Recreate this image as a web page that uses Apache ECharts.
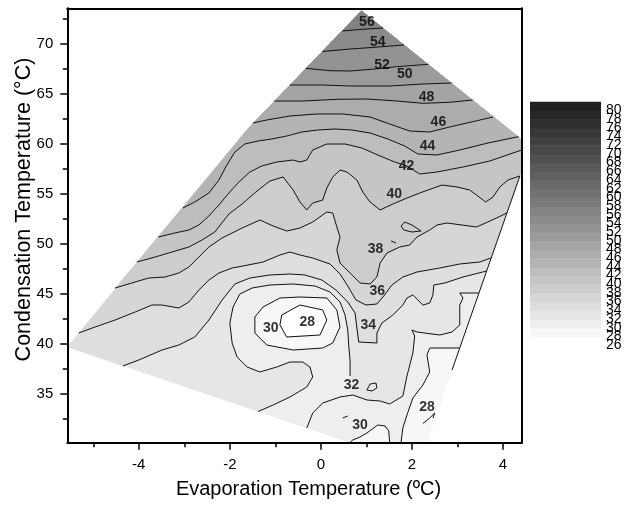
<!DOCTYPE html>
<html>
<head>
<meta charset="utf-8">
<title>Condensation vs evaporation temperature contour map</title>
<script src="https://cdn.jsdelivr.net/npm/echarts@6.0.0/dist/echarts.min.js"></script>
<style>
  html, body { margin: 0; padding: 0; background: #ffffff; }
  #chart { width: 624px; height: 512px; }
</style>
</head>
<body>
<div id="chart"></div>
<script>
// ---- axis extents and ticks ----
const xExtent = [-5.57, 4.41];
const yExtent = [30.13, 73.57];
const xMajorTicks = [-4, -2, 0, 2, 4];
const xMinorTicks = [-5, -3, -1, 1, 3];
const yMajorTicks = [35, 40, 45, 50, 55, 60, 65, 70];
const yMinorTicks = [32.5, 37.5, 42.5, 47.5, 52.5, 57.5, 62.5, 67.5, 72.5];
const scaleLevels = [26, 28, 30, 32, 34, 36, 38, 40, 42, 44, 46, 48, 50, 52, 54, 56, 58, 60, 62, 64, 66, 68, 70, 72, 74, 76, 78, 80];
const scaleExtent = [24, 82];

// ---- outline of the measured region [evaporation, condensation] ----
const outline = [
  [-5.57, 39.70], [-1.62, 61.45], [0.89, 73.33], [4.34, 60.73],
  [4.41, 60.40], [4.41, 57.30], [2.88, 37.40], [2.33, 30.13], [0.64, 30.13]
];

// ---- iso-lines ----
const iso56 = [[0.47,71.30],[0.86,71.45],[1.36,71.60]];
const iso54 = [[0.03,69.25],[0.64,69.50],[1.12,69.65],[1.82,69.90]];
const iso52 = [[-0.33,67.57],[0.20,67.33],[0.64,67.30],[1.11,67.47],[1.66,67.73],[2.36,67.97]];
const iso50 = [[-0.68,65.90],[0.04,65.90],[0.64,65.80],[1.51,65.80],[2.24,66.00],[2.87,66.10]];
const iso48 = [[-1.02,64.30],[-0.40,64.30],[0.35,64.47],[1.01,64.50],[1.67,64.30],[2.24,64.07],[2.83,64.17],[3.33,64.40]];
const iso46 = [[-1.49,62.10],[-1.19,62.40],[-0.68,62.80],[-0.09,63.00],[0.48,63.00],[1.08,62.70],[1.51,62.00],[1.95,61.30],[2.39,61.20],[2.83,61.70],[3.78,62.70]];
const iso44 = [[-3.03,53.60],[-2.77,54.20],[-2.46,55.10],[-2.24,56.40],[-2.09,57.70],[-1.89,59.20],[-1.67,60.00],[-1.38,60.30],[-1.08,60.50],[-0.75,60.80],[-0.42,61.20],[-0.07,61.40],[0.31,61.50],[0.68,61.40],[1.08,61.10],[1.47,60.50],[1.84,59.80],[2.13,59.00],[2.55,58.90],[3.05,59.40],[3.67,60.10],[4.34,60.73]];
const iso42 = [[-3.57,50.70],[-3.21,51.10],[-2.90,51.40],[-2.68,51.90],[-2.46,52.80],[-2.24,53.90],[-2.02,55.10],[-1.80,56.20],[-1.56,57.20],[-1.30,57.80],[-0.97,58.20],[-0.61,58.40],[-0.46,58.20],[-0.31,58.40],[-0.18,59.40],[0.13,60.00],[0.53,60.00],[0.90,59.60],[1.25,58.90],[1.62,58.20],[1.89,57.80],[2.17,57.00],[2.55,57.20],[3.12,57.70],[3.71,58.30],[4.41,59.40]];
const iso40 = [[-4.04,48.20],[-3.64,48.70],[-3.27,49.20],[-2.90,49.70],[-2.61,50.40],[-2.33,51.20],[-2.02,53.00],[-1.73,54.00],[-1.43,55.20],[-1.12,56.30],[-0.83,56.70],[-0.61,55.40],[-0.46,54.20],[-0.31,53.40],[-0.18,54.10],[0.04,54.40],[0.13,55.60],[0.26,56.70],[0.42,57.40],[0.57,57.20],[0.79,56.40],[0.92,55.20],[1.08,54.20],[1.30,53.40],[1.58,54.00],[1.84,54.50],[2.17,55.10],[2.66,55.90],[2.99,55.70],[3.27,55.40],[3.62,54.20],[3.78,54.70],[3.93,55.70],[4.11,56.40],[4.37,56.80]];
const iso38 = [[-4.52,45.60],[-4.08,46.20],[-3.78,46.60],[-3.42,46.70],[-3.12,47.10],[-2.90,47.70],[-2.68,48.70],[-2.46,49.70],[-2.17,50.60],[-1.73,51.60],[-1.34,52.40],[-1.05,51.80],[-0.75,51.30],[-0.46,51.60],[-0.18,52.20],[0.13,53.20],[0.26,53.10],[0.35,51.70],[0.42,50.70],[0.35,49.40],[0.42,48.10],[0.64,47.10],[0.86,46.10],[1.08,46.00],[1.23,46.70],[1.30,48.10],[1.45,49.10],[1.73,49.70],[1.95,49.90],[2.11,50.70],[2.39,51.40],[2.55,51.90],[2.77,52.10],[3.42,51.70],[3.86,52.60],[4.08,53.10]];
const iso36 = [[-5.32,41.10],[-4.96,41.70],[-4.52,42.40],[-4.08,43.20],[-3.71,43.90],[-3.49,43.90],[-3.12,43.60],[-2.90,44.20],[-2.68,45.40],[-2.46,46.40],[-2.24,47.10],[-1.95,47.60],[-1.71,47.80],[-1.27,48.20],[-0.90,48.90],[-0.68,49.20],[-0.46,48.90],[-0.18,48.60],[0.20,48.00],[0.42,47.00],[0.59,45.80],[0.77,44.40],[0.99,43.90],[1.23,44.00],[1.38,44.80],[1.56,45.90],[1.80,46.70],[2.11,47.20],[2.61,47.60],[3.05,48.00],[3.49,48.20],[3.73,48.60]];
const iso34 = [[-4.35,37.80],[-4.00,38.40],[-3.49,39.40],[-3.12,39.90],[-2.77,40.70],[-2.46,42.40],[-2.17,44.40],[-1.89,46.00],[-1.56,46.60],[-1.12,46.90],[-0.68,47.00],[-0.35,46.90],[0.02,46.40],[0.33,45.40],[0.59,44.20],[0.75,43.10],[0.79,41.60],[0.83,40.20],[1.23,40.10],[1.23,41.10],[1.34,42.10],[1.58,42.90],[1.80,43.90],[1.89,44.60],[2.02,44.90],[2.24,43.90],[2.39,44.10],[2.46,44.90],[2.48,45.90],[2.72,46.10],[3.12,46.70],[3.64,47.30]];
const iso32 = [[-0.31,31.60],[-0.18,33.10],[0.04,34.10],[0.42,34.70],[0.70,34.90],[1.01,34.40],[1.30,34.30],[1.51,34.00],[1.80,34.80],[1.89,36.80],[2.02,39.10],[2.06,40.80],[2.00,41.40],[2.11,41.20],[2.61,40.90],[2.88,41.20],[3.05,41.90],[3.05,43.90],[3.12,44.60],[3.05,45.10],[3.47,45.10]];
const iso32Tongue = [[-1.38,33.25],[-1.05,33.90],[-0.68,34.70],[-0.31,35.70],[-0.18,36.70],[-0.24,37.70],[-0.40,38.20],[-0.68,38.20],[-0.97,37.70],[-1.34,37.20],[-1.62,37.70],[-1.84,38.70],[-1.95,40.10],[-2.00,42.10],[-1.93,43.70],[-1.78,45.00],[-1.51,45.60],[-1.12,45.90],[-0.61,46.00],[-0.13,45.80],[0.20,45.20],[0.42,44.20],[0.53,42.90],[0.59,41.40],[0.61,39.90],[0.64,38.40],[0.64,36.80]];
// short stretch hidden under the "32" label, closing the band
const labelGap32 = [[0.66,34.85]];
const iso32Small = [[1.01,35.40],[1.08,36.00],[1.21,36.10],[1.23,35.60],[1.12,35.30],[1.01,35.40]];
const iso30Ring = [[-1.45,42.70],[-1.27,43.70],[-0.90,44.60],[-0.46,44.70],[0.13,44.60],[0.35,43.40],[0.42,41.70],[0.26,40.10],[0.04,39.60],[-0.61,39.40],[-1.19,39.90],[-1.45,41.10],[-1.45,42.70]];
const iso28Ring = [[-0.86,42.90],[-0.46,43.90],[0.04,43.40],[0.13,42.40],[-0.02,40.90],[-0.75,40.70],[-0.90,41.90],[-0.86,42.90]];
const iso30Bowl = [[0.64,30.15],[0.70,30.40],[0.86,30.70],[1.01,31.10],[1.25,31.90],[1.41,31.80],[1.49,31.30],[1.51,30.15]];
const iso30East = [[3.05,39.60],[2.39,39.60],[2.33,38.90],[2.39,37.20],[2.24,35.90],[2.02,34.60],[1.89,32.90],[1.80,31.60],[1.76,30.15]];
const iso28Hook = [[2.24,32.05],[2.39,32.60],[2.50,33.10],[2.46,32.60]];
const iso38Spike = [[1.76,51.80],[1.84,52.20],[2.00,51.90],[2.20,51.30],[2.00,51.20],[1.82,51.40],[1.76,51.80]];
const iso38Dash = [[1.54,50.30],[1.65,50.10]];
const iso30Dash = [[0.48,32.60],[0.59,32.80]];
const eastEdge = [[4.37,56.80],[2.88,37.40]];

// ---- contour labels ----
const labelLevel = [56, 54, 52, 50, 48, 46, 44, 42, 40, 38, 36, 34, 32, 30, 28, 30, 28];
const labelX = [1.01, 1.25, 1.34, 1.84, 2.32, 2.58, 2.34, 1.88, 1.61, 1.20, 1.24, 1.04, 0.67, 0.86, 2.33, -1.10, -0.30];
const labelY = [72.20, 70.23, 67.90, 67.00, 64.73, 62.20, 59.80, 57.83, 55.00, 49.50, 45.33, 41.87, 35.93, 31.93, 33.67, 41.57, 42.23];

// ---- grey ramp: one tone per 2-degree band ----
function shade(level) {
  const i = (level - 26) / 2;
  const g = Math.max(0, Math.round(255 - 8.3 * i));
  return 'rgb(' + g + ',' + g + ',' + g + ')';
}

// outline corner shortcut
const O = i => outline[i];

// filled bands, painted in order (each region takes the tone of the band above its level)
const regions = [
  { level: 30, pts: outline },
  { level: 32, pts: iso32.concat([O(5), O(4), O(3), O(2), O(1), O(0)]) },
  { level: 34, pts: iso34.concat([O(5), O(4), O(3), O(2), O(1), O(0)]) },
  { level: 36, pts: iso36.concat([O(5), O(4), O(3), O(2), O(1)]) },
  { level: 38, pts: iso38.concat([O(5), O(4), O(3), O(2), O(1)]) },
  { level: 40, pts: iso40.concat([O(5), O(4), O(3), O(2), O(1)]) },
  { level: 42, pts: iso42.concat([O(4), O(3), O(2), O(1)]) },
  { level: 44, pts: iso44.concat([O(2), O(1)]) },
  { level: 46, pts: iso46.concat([O(2)]) },
  { level: 48, pts: iso48.concat([O(2)]) },
  { level: 50, pts: iso50.concat([O(2)]) },
  { level: 52, pts: iso52.concat([O(2)]) },
  { level: 54, pts: iso54.concat([O(2)]) },
  { level: 56, pts: iso56.concat([O(2)]) },
  { level: 30, pts: iso32Tongue.concat(labelGap32, iso32.slice(0, 5).reverse()) },
  { level: 28, pts: iso30Ring },
  { level: 26, pts: iso28Ring },
  { level: 28, pts: iso30Bowl },
  { level: 28, pts: iso30East.concat([O(7), O(6)]) }
];

const contourLines = [iso56, iso54, iso52, iso50, iso48, iso46, iso44, iso42, iso40, iso38, iso36, iso34,
  iso32, iso32Tongue, iso32Small, iso30Ring, iso28Ring, iso30Bowl, iso30East, iso28Hook,
  iso38Spike, iso38Dash, iso30Dash, eastEdge];

const FONT = "'Liberation Sans', Arial, Helvetica, sans-serif";
const black = '#000000';

const series = [];

series.push({
  type: 'custom',
  coordinateSystem: 'cartesian2d',
  xAxisIndex: 0, yAxisIndex: 0,
  silent: true, clip: true, z: 1,
  data: regions.map((r, i) => [r.pts[0][0], r.pts[0][1], i]),
  renderItem: function (params, api) {
    const r = regions[params.dataIndex];
    return {
      type: 'polygon',
      shape: { points: r.pts.map(p => api.coord(p)) },
      style: { fill: shade(r.level), stroke: null }
    };
  }
});

contourLines.forEach(pts => {
  series.push({
    type: 'line',
    xAxisIndex: 0, yAxisIndex: 0,
    data: pts,
    symbol: 'none', showSymbol: false,
    silent: true, clip: true, z: 3,
    lineStyle: { color: '#111111', width: 1 }
  });
});

series.push({
  type: 'scatter',
  xAxisIndex: 0, yAxisIndex: 0,
  symbolSize: 0, silent: true, z: 4,
  data: labelLevel.map((lv, i) => [labelX[i], labelY[i], lv]),
  label: {
    show: true, position: 'inside',
    formatter: p => String(p.value[2]),
    fontFamily: FONT, fontSize: 14, fontWeight: 'bold', color: black
  }
});

// colour scale blocks
series.push({
  type: 'custom',
  coordinateSystem: 'cartesian2d',
  xAxisIndex: 3, yAxisIndex: 3,
  silent: true, clip: false, z: 1,
  data: scaleLevels.map(lv => [0.5, lv + 1, lv]),
  renderItem: function (params, api) {
    const lv = scaleLevels[params.dataIndex];
    const a = api.coord([0, lv + 2]);
    const b = api.coord([1, lv]);
    return {
      type: 'rect',
      shape: { x: a[0], y: a[1], width: b[0] - a[0], height: b[1] - a[1] + 0.6 },
      style: { fill: shade(lv), stroke: null }
    };
  }
});

const axisLineStyle = { color: black, width: 2 };
const tickStyle = { color: black, width: 1.5 };

const option = {
  animation: false,
  backgroundColor: '#ffffff',
  textStyle: { fontFamily: FONT },
  grid: [
    { left: 67.3, top: 8.3, width: 454.4, height: 434.4, containLabel: false, outerBoundsMode: 'none' },
    { left: 530, top: 101.8, width: 71, height: 251.9, containLabel: false, outerBoundsMode: 'none' }
  ],
  xAxis: [
    {
      gridIndex: 0, type: 'value', min: xExtent[0], max: xExtent[1], position: 'bottom', z: 5,
      axisLine: { show: true, onZero: false, lineStyle: axisLineStyle },
      axisTick: { show: true, customValues: xMajorTicks, length: 7, lineStyle: tickStyle },
      axisLabel: { show: true, customValues: xMajorTicks, fontSize: 15, color: black, margin: 15, fontFamily: FONT },
      splitLine: { show: false },
      name: 'Evaporation Temperature (ºC)', nameLocation: 'middle', nameGap: 37, nameMoveOverlap: false,
      nameTextStyle: { fontSize: 20, color: black, fontFamily: FONT, padding: [0, 0, 0, 28] }
    },
    {
      gridIndex: 0, type: 'value', min: xExtent[0], max: xExtent[1], position: 'bottom', z: 5,
      axisLine: { show: false, onZero: false },
      axisTick: { show: true, customValues: xMinorTicks, length: 4.5, lineStyle: tickStyle },
      axisLabel: { show: false }, splitLine: { show: false }
    },
    {
      gridIndex: 0, type: 'value', min: xExtent[0], max: xExtent[1], position: 'top', z: 5,
      axisLine: { show: true, onZero: false, lineStyle: axisLineStyle },
      axisTick: { show: false }, axisLabel: { show: false }, splitLine: { show: false }
    },
    { gridIndex: 1, type: 'value', min: 0, max: 1, show: false }
  ],
  yAxis: [
    {
      gridIndex: 0, type: 'value', min: yExtent[0], max: yExtent[1], position: 'left', z: 5,
      axisLine: { show: true, onZero: false, lineStyle: axisLineStyle },
      axisTick: { show: true, customValues: yMajorTicks, length: 7, lineStyle: tickStyle },
      axisLabel: { show: true, customValues: yMajorTicks, fontSize: 15, color: black, margin: 14, fontFamily: FONT },
      splitLine: { show: false },
      name: 'Condensation Temperature (°C)', nameLocation: 'middle', nameGap: 32, nameMoveOverlap: false,
      nameTextStyle: { fontSize: 21.5, color: black, fontFamily: FONT, padding: [0, 0, 0, 32] }
    },
    {
      gridIndex: 0, type: 'value', min: yExtent[0], max: yExtent[1], position: 'left', z: 5,
      axisLine: { show: false, onZero: false },
      axisTick: { show: true, customValues: yMinorTicks, length: 4.5, lineStyle: tickStyle },
      axisLabel: { show: false }, splitLine: { show: false }
    },
    {
      gridIndex: 0, type: 'value', min: yExtent[0], max: yExtent[1], position: 'right', z: 5,
      axisLine: { show: true, onZero: false, lineStyle: axisLineStyle },
      axisTick: { show: false }, axisLabel: { show: false }, splitLine: { show: false }
    },
    {
      gridIndex: 1, type: 'value', min: scaleExtent[0], max: scaleExtent[1], position: 'right',
      axisLine: { show: false, onZero: false }, axisTick: { show: false }, splitLine: { show: false },
      axisLabel: {
        show: true,
        // end stops carry no text, so every level label stays visible
        customValues: [scaleExtent[0]].concat(scaleLevels, [scaleExtent[1]]),
        formatter: v => (v < scaleLevels[0] || v > scaleLevels[scaleLevels.length - 1]) ? '' : String(v),
        hideOverlap: false,
        fontSize: 14, color: black, margin: 5, fontFamily: FONT
      }
    }
  ],
  series: series
};

const chart = echarts.init(document.getElementById('chart'), null, { renderer: 'canvas' });
chart.setOption(option);
</script>
</body>
</html>
